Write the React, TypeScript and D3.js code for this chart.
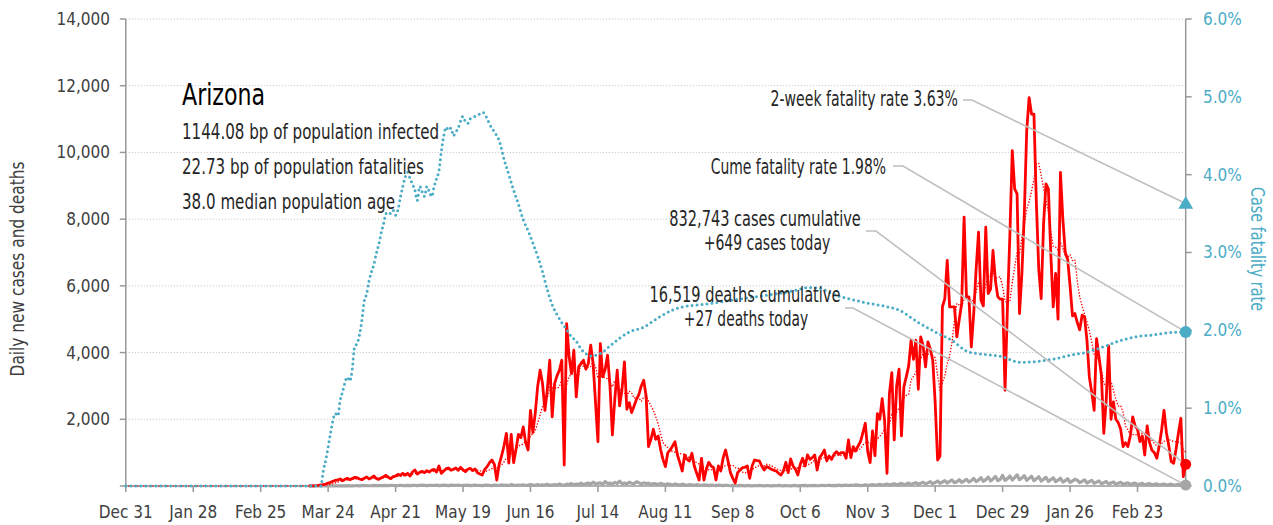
import React from 'react';
import * as d3 from 'd3';

// daily values, first entry is 2020-03-16
const casesStart = '2020-03-16';
const dailyCases = [
  3, 5, 6, 12, 20, 35, 40, 60, 90, 110,
  140, 170, 180, 210, 160, 200, 230, 190, 220, 260,
  250, 210, 190, 230, 270, 210, 250, 300, 220, 200,
  240, 280, 320, 260, 220, 280, 300, 350, 320, 380,
  330, 380, 300, 420, 480, 360, 410, 440, 400, 460, 420,
  480, 500, 420, 600, 380, 450, 520, 540, 470, 500,
  540, 470, 560, 480, 430, 500, 530, 460, 510, 400,
  360, 330, 500, 580, 700, 780, 650, 180, 650, 900,
  1200, 1580, 690, 1550, 700, 1100, 1550, 1450, 1770, 1300,
  1080, 2270, 1600, 2200, 3000, 3470, 3070, 2270, 2900, 3770,
  2070, 3070, 3300, 3470, 3770, 630, 4870, 3900, 3370, 4070,
  2670, 3570, 3670, 3770, 3500, 3670, 4220, 3670, 2500, 1330,
  4270, 3270, 3500, 3920, 3000, 1530, 2600, 3470, 2400, 2900,
  3720, 2300, 2500, 2200, 2400, 2600, 2750, 3000, 3170, 2700, 1180,
  1400, 1700, 1400, 1500, 1100, 800, 580, 1000, 1080, 1200,
  1330, 930, 700, 450, 930, 800, 750, 980, 600, 380,
  180, 830, 180, 500, 710, 600, 550, 180, 600, 450,
  850, 1080, 750, 400, 230, 90, 400, 480, 550, 560,
  600, 230, 600, 780, 760, 750, 600, 480, 580, 550,
  500, 470, 450, 380, 330, 450, 710, 400, 810, 600,
  500, 330, 650, 830, 600, 930, 800, 850, 930, 480,
  850, 950, 1080, 750, 900, 800, 950, 1030, 950, 1000,
  1000, 830, 1380, 850, 1180, 1050, 1200, 1330, 1600, 1880, 1030,
  700, 1650, 910, 2170, 2000, 2620, 1970, 380, 2770, 3400,
  1380, 3000, 3500, 1500, 2970, 3270, 3600, 4370, 3800, 4370,
  2900, 4470, 4200, 3570, 4320, 4100, 3770, 2500, 780, 900,
  5370, 5620, 6760, 5370, 5370, 5370, 4470, 5000, 5470, 8060,
  5670, 5670, 4170, 5170, 6500, 7610, 5570, 5400, 7760, 5770,
  5900, 7060, 6160, 5670, 5600, 5600, 2870, 5370, 7500, 10050,
  8910, 8760, 5170, 6370, 8160, 10650, 11640, 11150, 11150, 8500,
  6500, 5620, 7860, 9060, 8900, 6960, 5370, 6370, 5000, 9400,
  8000, 7010, 6800, 6000, 5100, 5170, 4900, 4680, 5120, 5070, 4370,
  3270, 2800, 2270, 4420, 3870, 3320, 1580, 2570, 4200, 2000,
  2520, 2000, 1900, 1700, 1180, 1300, 1180, 1500, 2070, 1800,
  1700, 1330, 1500, 930, 1800, 1300, 1070, 1000, 830, 1200,
  1680, 2270, 1600, 1200, 730, 680, 1100, 1600, 2030, 280,
  649,
];
const dailyDeaths = [
  0, 0, 0, 0, 1, 0, 1, 2, 0, 3,
  2, 5, 4, 3, 7, 5, 9, 6, 4, 8,
  10, 6, 12, 9, 15, 7, 11, 18, 9, 14,
  12, 10, 17, 8, 20, 15, 13, 12, 22, 10,
  14, 18, 9, 21, 16, 12, 19, 25, 20, 14, 18,
  22, 15, 28, 10, 19, 24, 18, 12, 26, 20,
  16, 30, 14, 22, 18, 25, 9, 20, 28, 15,
  17, 10, 24, 30, 19, 12, 27, 22, 14, 35,
  20, 28, 16, 40, 25, 18, 31, 22, 38, 15,
  26, 40, 30, 22, 45, 18, 36, 28, 50, 25,
  30, 45, 24, 60, 38, 20, 55, 44, 72, 35,
  60, 48, 85, 39, 70, 90, 52, 118, 64, 80,
  95, 58, 134, 72, 88, 60, 110, 75, 145, 68,
  92, 60, 115, 83, 70, 125, 98, 56, 96, 74, 88,
  50, 72, 64, 40, 80, 55, 36, 68, 48, 30,
  60, 42, 25, 55, 38, 20, 45, 34, 18, 40,
  28, 15, 36, 24, 12, 30, 22, 10, 27, 18,
  9, 24, 16, 8, 20, 14, 6, 18, 12, 5,
  16, 10, 4, 14, 8, 20, 11, 6, 15, 9,
  5, 12, 7, 18, 10, 4, 14, 8, 3, 11,
  16, 6, 12, 9, 20, 5, 14, 10, 18, 7,
  12, 22, 9, 15, 25, 8, 18, 12, 28, 10,
  20, 30, 14, 25, 16, 35, 27, 12, 22, 38, 18,
  30, 45, 20, 35, 52, 25, 40, 60, 30, 48,
  70, 35, 55, 80, 40, 62, 90, 45, 75, 100,
  55, 85, 110, 60, 95, 130, 70, 105, 150, 80,
  120, 160, 90, 140, 180, 100, 130, 190, 110, 150,
  200, 120, 160, 230, 130, 175, 250, 140, 190, 270,
  150, 210, 290, 160, 200, 320, 170, 220, 300, 180,
  250, 335, 190, 240, 310, 170, 230, 295, 160, 215,
  280, 150, 200, 260, 140, 190, 250, 130, 175, 235,
  120, 160, 220, 110, 150, 200, 175, 100, 140, 185, 90,
  130, 170, 80, 115, 150, 70, 100, 135, 60, 90,
  120, 55, 80, 110, 50, 75, 95, 45, 70, 88,
  40, 62, 80, 35, 55, 72, 30, 50, 65, 28,
  45, 60, 25, 40, 55, 22, 38, 50, 20, 30,
  27,
];

// cumulative case fatality rate, %
const cfrPoints: [string, number][] = [
  ['2019-12-31', 0], ['2020-03-21', 0], ['2020-03-22', 0.2], ['2020-03-23', 0.33],
  ['2020-03-24', 0.5], ['2020-03-25', 0.68], ['2020-03-27', 0.93], ['2020-03-28', 0.9],
  ['2020-03-29', 1.1], ['2020-03-30', 1.21], ['2020-04-01', 1.4], ['2020-04-02', 1.35],
  ['2020-04-03', 1.5], ['2020-04-04', 1.79], ['2020-04-05', 1.83], ['2020-04-06', 1.94],
  ['2020-04-07', 2.13], ['2020-04-08', 2.38], ['2020-04-09', 2.47], ['2020-04-10', 2.64],
  ['2020-04-11', 2.75], ['2020-04-12', 2.85], ['2020-04-13', 2.99], ['2020-04-14', 3.1],
  ['2020-04-15', 3.25], ['2020-04-16', 3.37], ['2020-04-17', 3.5], ['2020-04-18', 3.52],
  ['2020-04-19', 3.5], ['2020-04-20', 3.54], ['2020-04-21', 3.48], ['2020-04-22', 3.55],
  ['2020-04-23', 3.71], ['2020-04-24', 3.85], ['2020-04-25', 3.97], ['2020-04-26', 4.03],
  ['2020-04-27', 3.95], ['2020-04-28', 3.88], ['2020-04-29', 3.8], ['2020-04-30', 3.67],
  ['2020-05-01', 3.85], ['2020-05-02', 3.78], ['2020-05-03', 3.72], ['2020-05-04', 3.85],
  ['2020-05-05', 3.78], ['2020-05-06', 3.72], ['2020-05-07', 3.85], ['2020-05-08', 3.95],
  ['2020-05-09', 4.05], ['2020-05-10', 4.3], ['2020-05-11', 4.5], ['2020-05-12', 4.61],
  ['2020-05-13', 4.57], ['2020-05-14', 4.6], ['2020-05-15', 4.5], ['2020-05-16', 4.55],
  ['2020-05-17', 4.6], ['2020-05-18', 4.69], ['2020-05-19', 4.75], ['2020-05-20', 4.68],
  ['2020-05-21', 4.66], ['2020-05-22', 4.72], ['2020-05-24', 4.75], ['2020-05-26', 4.78],
  ['2020-05-27', 4.8], ['2020-05-28', 4.78], ['2020-05-29', 4.72], ['2020-05-30', 4.65],
  ['2020-06-01', 4.55], ['2020-06-03', 4.44], ['2020-06-05', 4.2], ['2020-06-07', 4.0],
  ['2020-06-09', 3.8], ['2020-06-11', 3.62], ['2020-06-13', 3.42], ['2020-06-15', 3.28],
  ['2020-06-17', 3.12], ['2020-06-19', 2.95], ['2020-06-21', 2.75], ['2020-06-23', 2.52],
  ['2020-06-25', 2.33], ['2020-06-27', 2.2], ['2020-06-29', 2.1], ['2020-07-01', 2.01],
  ['2020-07-03', 1.92], ['2020-07-05', 1.86], ['2020-07-07', 1.76], ['2020-07-09', 1.7],
  ['2020-07-11', 1.67], ['2020-07-13', 1.68], ['2020-07-15', 1.7], ['2020-07-19', 1.8],
  ['2020-07-23', 1.9], ['2020-07-27', 1.98], ['2020-08-02', 2.04], ['2020-08-06', 2.12],
  ['2020-08-09', 2.18], ['2020-08-14', 2.26], ['2020-08-18', 2.3], ['2020-08-26', 2.33],
  ['2020-09-15', 2.42], ['2020-10-02', 2.5], ['2020-10-10', 2.55], ['2020-10-14', 2.54],
  ['2020-10-21', 2.45], ['2020-10-27', 2.4], ['2020-11-03', 2.35], ['2020-11-10', 2.31],
  ['2020-11-16', 2.26], ['2020-11-24', 2.1], ['2020-12-01', 1.98], ['2020-12-08', 1.87],
  ['2020-12-15', 1.72], ['2020-12-22', 1.69], ['2020-12-29', 1.66], ['2021-01-05', 1.59],
  ['2021-01-12', 1.6], ['2021-01-19', 1.63], ['2021-01-26', 1.68], ['2021-02-02', 1.72],
  ['2021-02-09', 1.79], ['2021-02-16', 1.87], ['2021-02-23', 1.92], ['2021-03-01', 1.94],
  ['2021-03-08', 1.97], ['2021-03-15', 1.98],
];

const stateName = 'Arizona';
const statLines = [
  '1144.08 bp of population infected',
  '22.73 bp of population fatalities',
  '38.0 median population age',
];
const totalCases = 832743;
const totalDeaths = 16519;
const twoWeekRate = 3.63;
const cumeRate = 1.98;

const leftTicks = [0, 2000, 4000, 6000, 8000, 10000, 12000, 14000];
const rightTicks = [0, 1, 2, 3, 4, 5, 6];
const axisStart = '2019-12-31';
const axisEnd = '2021-03-15';
const xTickStep = 28;

const FONT = "'Liberation Sans Narrow', 'DejaVu Sans Condensed', sans-serif";
const TEAL = '#4bacc6';
const RED = '#ff0000';
const GREY = '#a6a6a6';
const TEXT = '#262626';

const parse = d3.timeParse('%Y-%m-%d');

// the original typeface is narrower, so squeeze horizontally
function Label({ x, y, sx = 0.79, size = 20.5, anchor = 'start', fill = TEXT, rotate = 0, children }: any) {
  return (
    <g transform={`translate(${x},${y}) rotate(${rotate}) scale(${sx},1)`}>
      <text textAnchor={anchor} fontSize={size} fill={fill}>
        {children}
      </text>
    </g>
  );
}

export default function App() {
  const W = 1273, H = 525;
  const left = 125.8, right = 1185.7, top = 19, bottom = 486;

  const x = d3.scaleTime().domain([parse(axisStart)!, parse(axisEnd)!]).range([left, right]);
  const y = d3.scaleLinear().domain([0, 14000]).range([bottom, top]);
  const yr = d3.scaleLinear().domain([0, 6]).range([bottom, top]);

  const start = parse(casesStart)!;
  const cases = dailyCases.map((v, i) => ({ date: d3.timeDay.offset(start, i), value: v }));
  const deaths = dailyDeaths.map((v, i) => ({ date: d3.timeDay.offset(start, i), value: v }));
  // trailing 7 day average
  const avg = [{ date: parse(axisStart)!, value: 0 }].concat(
    cases.map((d, i) => ({
      date: d.date,
      value: d3.mean(dailyCases.slice(Math.max(0, i - 6), i + 1))!,
    }))
  );
  const cfr = cfrPoints.map(([d, v]) => ({ date: parse(d)!, value: v }));

  const line = d3.line<{ date: Date; value: number }>().x(d => x(d.date)).y(d => y(d.value));
  const rateLine = d3
    .line<{ date: Date; value: number }>()
    .x(d => x(d.date))
    .y(d => yr(d.value))
    .curve(d3.curveMonotoneX);

  const xTicks = d3.timeDay.range(parse(axisStart)!, d3.timeDay.offset(parse(axisEnd)!, -15), xTickStep);
  const fmtDate = d3.timeFormat('%b %-d');
  const fmtNum = d3.format(',');

  const lastCase = cases[cases.length - 1];
  const lastDeath = deaths[deaths.length - 1];
  const xEnd = x(lastCase.date);

  const tri = d3.symbol(d3.symbolTriangle, 95)()!;

  // leader lines: [text end x, text y, elbow x, target y]
  const leaders = [
    [963, 100, 972, yr(twoWeekRate)],
    [893, 166, 903, yr(cumeRate)],
    [866, 231, 876, y(lastCase.value)],
    [845, 308, 853, y(lastDeath.value)],
  ];

  return (
    <svg width={W} height={H} style={{ position: 'absolute', left: 0, top: 0, background: '#fff' }} fontFamily={FONT}>
      {/* grid */}
      {leftTicks.slice(1).map(t => (
        <line key={t} x1={left} x2={right} y1={y(t)} y2={y(t)} stroke="#bfbfbf" strokeWidth={1} strokeDasharray="1 2" />
      ))}
      {/* axes */}
      <line x1={left} x2={left} y1={top} y2={bottom} stroke="#999" strokeWidth={1.5} />
      <line x1={right} x2={right} y1={top} y2={bottom} stroke="#999" strokeWidth={1.5} />
      <line x1={left} x2={right} y1={bottom} y2={bottom} stroke="#999" strokeWidth={1.5} />
      {leftTicks.map(t => (
        <g key={t}>
          <line x1={left - 6} x2={left} y1={y(t)} y2={y(t)} stroke="#999" strokeWidth={1.5} />
          {t > 0 && (
            <text x={110} y={y(t)} dy="0.35em" textAnchor="end" fontSize={17} fill="#404040">
              {fmtNum(t)}
            </text>
          )}
        </g>
      ))}
      {rightTicks.map(t => (
        <g key={t}>
          <line x1={right} x2={right + 6} y1={yr(t)} y2={yr(t)} stroke="#999" strokeWidth={1.5} />
          <text x={1203} y={yr(t)} dy="0.35em" fontSize={17} fill={TEAL}>
            {t.toFixed(1)}%
          </text>
        </g>
      ))}
      {xTicks.map(t => (
        <g key={+t}>
          <line x1={x(t)} x2={x(t)} y1={bottom} y2={bottom + 6} stroke="#999" strokeWidth={1.5} />
          <text x={x(t)} y={518} textAnchor="middle" fontSize={17} fill="#404040">
            {fmtDate(t)}
          </text>
        </g>
      ))}
      <Label x={24} y={269} rotate={-90} sx={0.9} size={19} anchor="middle" fill="#404040">
        Daily new cases and deaths
      </Label>
      <Label x={1251} y={249} rotate={90} sx={0.8} size={20} anchor="middle" fill={TEAL}>
        Case fatality rate
      </Label>

      {/* series */}
      <path d={line(deaths)!} fill="none" stroke={GREY} strokeWidth={3.2} strokeLinejoin="round" />
      <path d={line(cases)!} fill="none" stroke={RED} strokeWidth={2.8} strokeLinejoin="round" />
      <path d={line(avg)!} fill="none" stroke={RED} strokeWidth={1.6} strokeDasharray="0 3" strokeLinecap="round" />
      <path d={rateLine(cfr)!} fill="none" stroke={TEAL} strokeWidth={3} strokeDasharray="0 5" strokeLinecap="round" />

      {/* leaders */}
      {leaders.map(([x0, y0, x1, yt], i) => (
        <polyline key={i} points={`${x0},${y0} ${x1},${y0} ${xEnd},${yt}`} fill="none" stroke="#bfbfbf" strokeWidth={1.6} />
      ))}

      {/* end markers */}
      <circle cx={xEnd} cy={y(lastDeath.value)} r={5.5} fill={GREY} />
      <circle cx={xEnd} cy={y(lastCase.value)} r={5.5} fill={RED} />
      <circle cx={xEnd} cy={yr(cumeRate)} r={6} fill={TEAL} />
      <path d={tri} transform={`translate(${xEnd},${yr(twoWeekRate) + 1})`} fill={TEAL} />

      {/* annotations */}
      <Label x={182} y={105} sx={0.82} size={30} fill="#000">{stateName}</Label>
      {statLines.map((s, i) => (
        <Label key={s} x={182} y={139 + i * 35} sx={0.8} size={21}>{s}</Label>
      ))}
      <Label x={958} y={106} sx={0.765} anchor="end">
        2-week fatality rate {twoWeekRate.toFixed(2)}%
      </Label>
      <Label x={886} y={174} sx={0.755} anchor="end">
        Cume fatality rate {cumeRate.toFixed(2)}%
      </Label>
      <Label x={765} y={226} anchor="middle">
        {fmtNum(totalCases)} cases cumulative
      </Label>
      <Label x={767} y={250} sx={0.76} anchor="middle">
        +{fmtNum(lastCase.value)} cases today
      </Label>
      <Label x={745} y={302} anchor="middle">
        {fmtNum(totalDeaths)} deaths cumulative
      </Label>
      <Label x={746} y={326} sx={0.75} anchor="middle">
        +{fmtNum(lastDeath.value)} deaths today
      </Label>
    </svg>
  );
}
